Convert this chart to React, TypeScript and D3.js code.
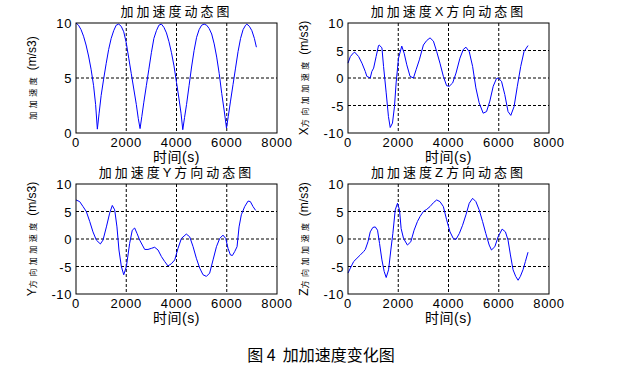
import * as d3 from 'd3';

const W = 618;
const H = 368;

// 加加速度 (总量)
const jerkT = [0, 100, 200, 300, 400, 500, 600, 700, 780, 850, 920, 1000, 1100, 1200, 1300, 1400, 1500, 1600, 1700, 1800, 1900, 2000, 2100, 2200, 2300, 2400, 2480, 2550, 2620, 2700, 2800, 2900, 3000, 3100, 3200, 3300, 3400, 3500, 3600, 3700, 3800, 3900, 4000, 4100, 4180, 4250, 4320, 4400, 4500, 4600, 4700, 4800, 4900, 5000, 5100, 5200, 5300, 5400, 5500, 5600, 5700, 5800, 5900, 5990, 6060, 6150, 6250, 6350, 6450, 6550, 6650, 6750, 6800, 6900, 7000, 7100, 7180];
const jerkV = [10, 9.8, 9.4, 8.8, 8.0, 7.0, 5.8, 4.3, 2.6, 0.35, 1.8, 3.4, 4.9, 6.3, 7.6, 8.6, 9.3, 9.8, 9.9, 9.7, 9.2, 8.2, 6.8, 5.4, 4.0, 2.6, 1.3, 0.4, 1.5, 2.8, 4.3, 5.8, 7.3, 8.6, 9.3, 9.8, 9.9, 9.6, 9.1, 8.3, 7.3, 6.1, 4.6, 3.1, 1.8, 0.3, 1.4, 2.6, 4.3, 6.0, 7.5, 8.7, 9.4, 9.8, 9.9, 9.8, 9.5, 9.0, 8.1, 6.9, 5.4, 3.6, 2.0, 0.45, 1.5, 2.9, 4.4, 5.9, 7.4, 8.6, 9.4, 9.8, 9.9, 9.7, 9.3, 8.6, 7.8];

// X方向
const jerkXT = [0, 93, 225, 265, 423, 555, 687, 750, 885, 950, 1020, 1120, 1215, 1240, 1350, 1415, 1520, 1610, 1680, 1770, 1850, 1915, 2010, 2140, 2235, 2340, 2470, 2605, 2710, 2840, 3000, 3130, 3265, 3400, 3530, 3660, 3795, 3925, 4030, 4165, 4300, 4455, 4590, 4695, 4825, 4960, 5090, 5220, 5380, 5515, 5645, 5780, 5910, 5975, 6110, 6240, 6370, 6480, 6610, 6740, 6875, 7005, 7165];
const jerkXV = [2.7, 3.9, 4.6, 4.7, 3.9, 2.7, 1.2, 0.3, 0, 1.2, 1.8, 3.9, 5.9, 6.0, 5.5, 2.1, -2.7, -7.0, -9.0, -8.2, -5.2, -0.9, 3.6, 5.8, 4.5, 2.4, 0.3, 0, 1.5, 3.3, 6.0, 6.8, 7.3, 6.7, 4.8, 2.7, 0.3, -1.4, -1.5, -0.9, 0.9, 3.6, 5.2, 5.6, 4.8, 2.1, -1.8, -4.5, -6.4, -6.1, -4.2, -1.5, -0.1, 0, -0.6, -3.0, -6.1, -6.8, -5.2, -1.5, 2.1, 4.8, 5.9];

// Y方向
const jerkYT = [0, 146, 280, 410, 545, 675, 810, 970, 1075, 1210, 1340, 1445, 1540, 1630, 1710, 1805, 1900, 2005, 2135, 2240, 2335, 2430, 2535, 2640, 2735, 2865, 3000, 3130, 3265, 3400, 3530, 3660, 3795, 3930, 4060, 4195, 4390, 4525, 4660, 4790, 4925, 5055, 5190, 5320, 5455, 5590, 5720, 5850, 5960, 6050, 6145, 6225, 6315, 6410, 6490, 6580, 6715, 6850, 6940, 7045, 7150];
const jerkYV = [7.1, 6.8, 5.9, 5.0, 3.2, 1.3, -0.2, -0.9, -0.2, 2.2, 4.7, 6.1, 5.3, 2.2, -2.0, -5.0, -6.5, -5.0, -0.8, 1.6, 2.0, 1.0, -0.2, -1.1, -1.9, -1.9, -1.7, -1.5, -2.0, -3.2, -4.1, -4.9, -4.5, -3.8, -1.7, 0.1, 0.9, 0.4, -1.4, -3.5, -5.3, -6.5, -6.8, -6.2, -3.8, -1.4, 0.1, 0.7, 0.1, -1.7, -2.9, -3.0, -2.3, -1.4, 2.2, 4.4, 5.9, 6.9, 6.8, 5.9, 5.2];

// Z方向
const jerkZT = [0, 93, 225, 357, 490, 620, 690, 795, 885, 990, 1085, 1175, 1255, 1350, 1440, 1520, 1615, 1705, 1785, 1880, 1970, 2050, 2115, 2210, 2365, 2500, 2630, 2765, 2870, 3000, 3135, 3265, 3400, 3530, 3660, 3795, 3925, 4060, 4190, 4295, 4430, 4560, 4695, 4825, 4960, 5090, 5220, 5355, 5485, 5620, 5710, 5845, 5975, 6135, 6265, 6370, 6465, 6570, 6675, 6770, 6860, 6965, 7060, 7165];
const jerkZV = [-6.2, -5.3, -4.1, -3.5, -2.9, -2.3, -1.9, -0.5, 1.3, 2.1, 2.2, 1.6, -0.8, -3.8, -5.9, -7.0, -5.6, -2.0, 1.0, 5.3, 6.5, 5.3, 1.9, 0.1, -1.1, -0.5, 1.6, 3.2, 4.1, 5.0, 5.4, 5.9, 6.6, 7.1, 6.8, 5.9, 3.5, 1.3, 0.1, -0.1, 1.0, 2.5, 4.4, 6.5, 7.4, 6.8, 5.3, 3.2, 1.0, -1.1, -2.0, -1.4, 0.4, 1.8, 1.3, -0.2, -2.9, -5.6, -6.8, -7.5, -6.8, -5.6, -4.1, -2.4];

const xTicks = [0, 2000, 4000, 6000, 8000];
const magTicks = [0, 5, 10];
const dirTicks = [-10, -5, 0, 5, 10];

const FONT = "'Liberation Sans', Arial, 'Noto Sans CJK SC', sans-serif";
const PW = 201;
const PH = 110;

function Panel({ left, top, title, axisName, t, v, domain, ticks }) {
  const x = d3.scaleLinear().domain([0, 8000]).range([left, left + PW]);
  const y = d3.scaleLinear().domain(domain).range([top + PH, top]);
  const line = d3.line<number>().x((_, i) => x(t[i])).y((d) => y(d));
  const cx = left + PW / 2;
  const cy = top + PH / 2;
  const labX = left - 40;
  return (
    <g>
      {xTicks.slice(1, -1).map((d) => (
        <line key={'gx' + d} x1={x(d)} x2={x(d)} y1={top} y2={top + PH} stroke="#000" strokeDasharray="3 2" />
      ))}
      {ticks.slice(1, -1).map((d) => (
        <line key={'gy' + d} x1={left} x2={left + PW} y1={y(d)} y2={y(d)} stroke="#000" strokeDasharray="3 2" />
      ))}
      <path d={line(v) ?? ''} fill="none" stroke="#0000ff" strokeWidth={1} />
      <rect x={left} y={top} width={PW} height={PH} fill="none" stroke="#000" />
      {xTicks.map((d) => (
        <text key={'tx' + d} x={x(d)} y={top + PH + 14} fontSize={13} letterSpacing={0.6} textAnchor="middle" fontFamily={FONT}>
          {d}
        </text>
      ))}
      {ticks.map((d) => (
        <text key={'ty' + d} x={left - 4} y={y(d) + 5} fontSize={13} letterSpacing={0.6} textAnchor="end" fontFamily={FONT}>
          {d}
        </text>
      ))}
      <text x={cx} y={top - 7} fontSize={13} letterSpacing={3} textAnchor="middle" fontFamily={FONT}>
        {title}
      </text>
      <text x={cx} y={top + PH + 29} fontSize={14} letterSpacing={0.5} textAnchor="middle" fontFamily={FONT}>
        时间(s)
      </text>
      <text transform={`translate(${labX},${cy}) rotate(-90)`} textAnchor="middle" fontFamily={FONT}>
        {axisName && <tspan fontSize={12}>{axisName}</tspan>}
        <tspan fontSize={8} letterSpacing={3.5}>{(axisName ? '方向' : '') + '加加速度'}</tspan>
        <tspan fontSize={12}> (m/s3)</tspan>
      </text>
    </g>
  );
}

export default function App() {
  return (
    <svg width={W} height={H} style={{ position: 'absolute', left: 0, top: 0, background: '#fff' }}>
      <Panel left={76} top={23} title="加加速度动态图" axisName="" t={jerkT} v={jerkV} domain={[0, 10]} ticks={magTicks} />
      <Panel left={348} top={23} title="加加速度X方向动态图" axisName="X" t={jerkXT} v={jerkXV} domain={[-10, 10]} ticks={dirTicks} />
      <Panel left={76} top={184} title="加加速度Y方向动态图" axisName="Y" t={jerkYT} v={jerkYV} domain={[-10, 10]} ticks={dirTicks} />
      <Panel left={348} top={184} title="加加速度Z方向动态图" axisName="Z" t={jerkZT} v={jerkZV} domain={[-10, 10]} ticks={dirTicks} />
      <text x={321} y={361} fontSize={16} textAnchor="middle" fontFamily="'Noto Sans CJK SC', serif" style={{ whiteSpace: 'pre' }}>
        {'图 4  加加速度变化图'}
      </text>
    </svg>
  );
}
